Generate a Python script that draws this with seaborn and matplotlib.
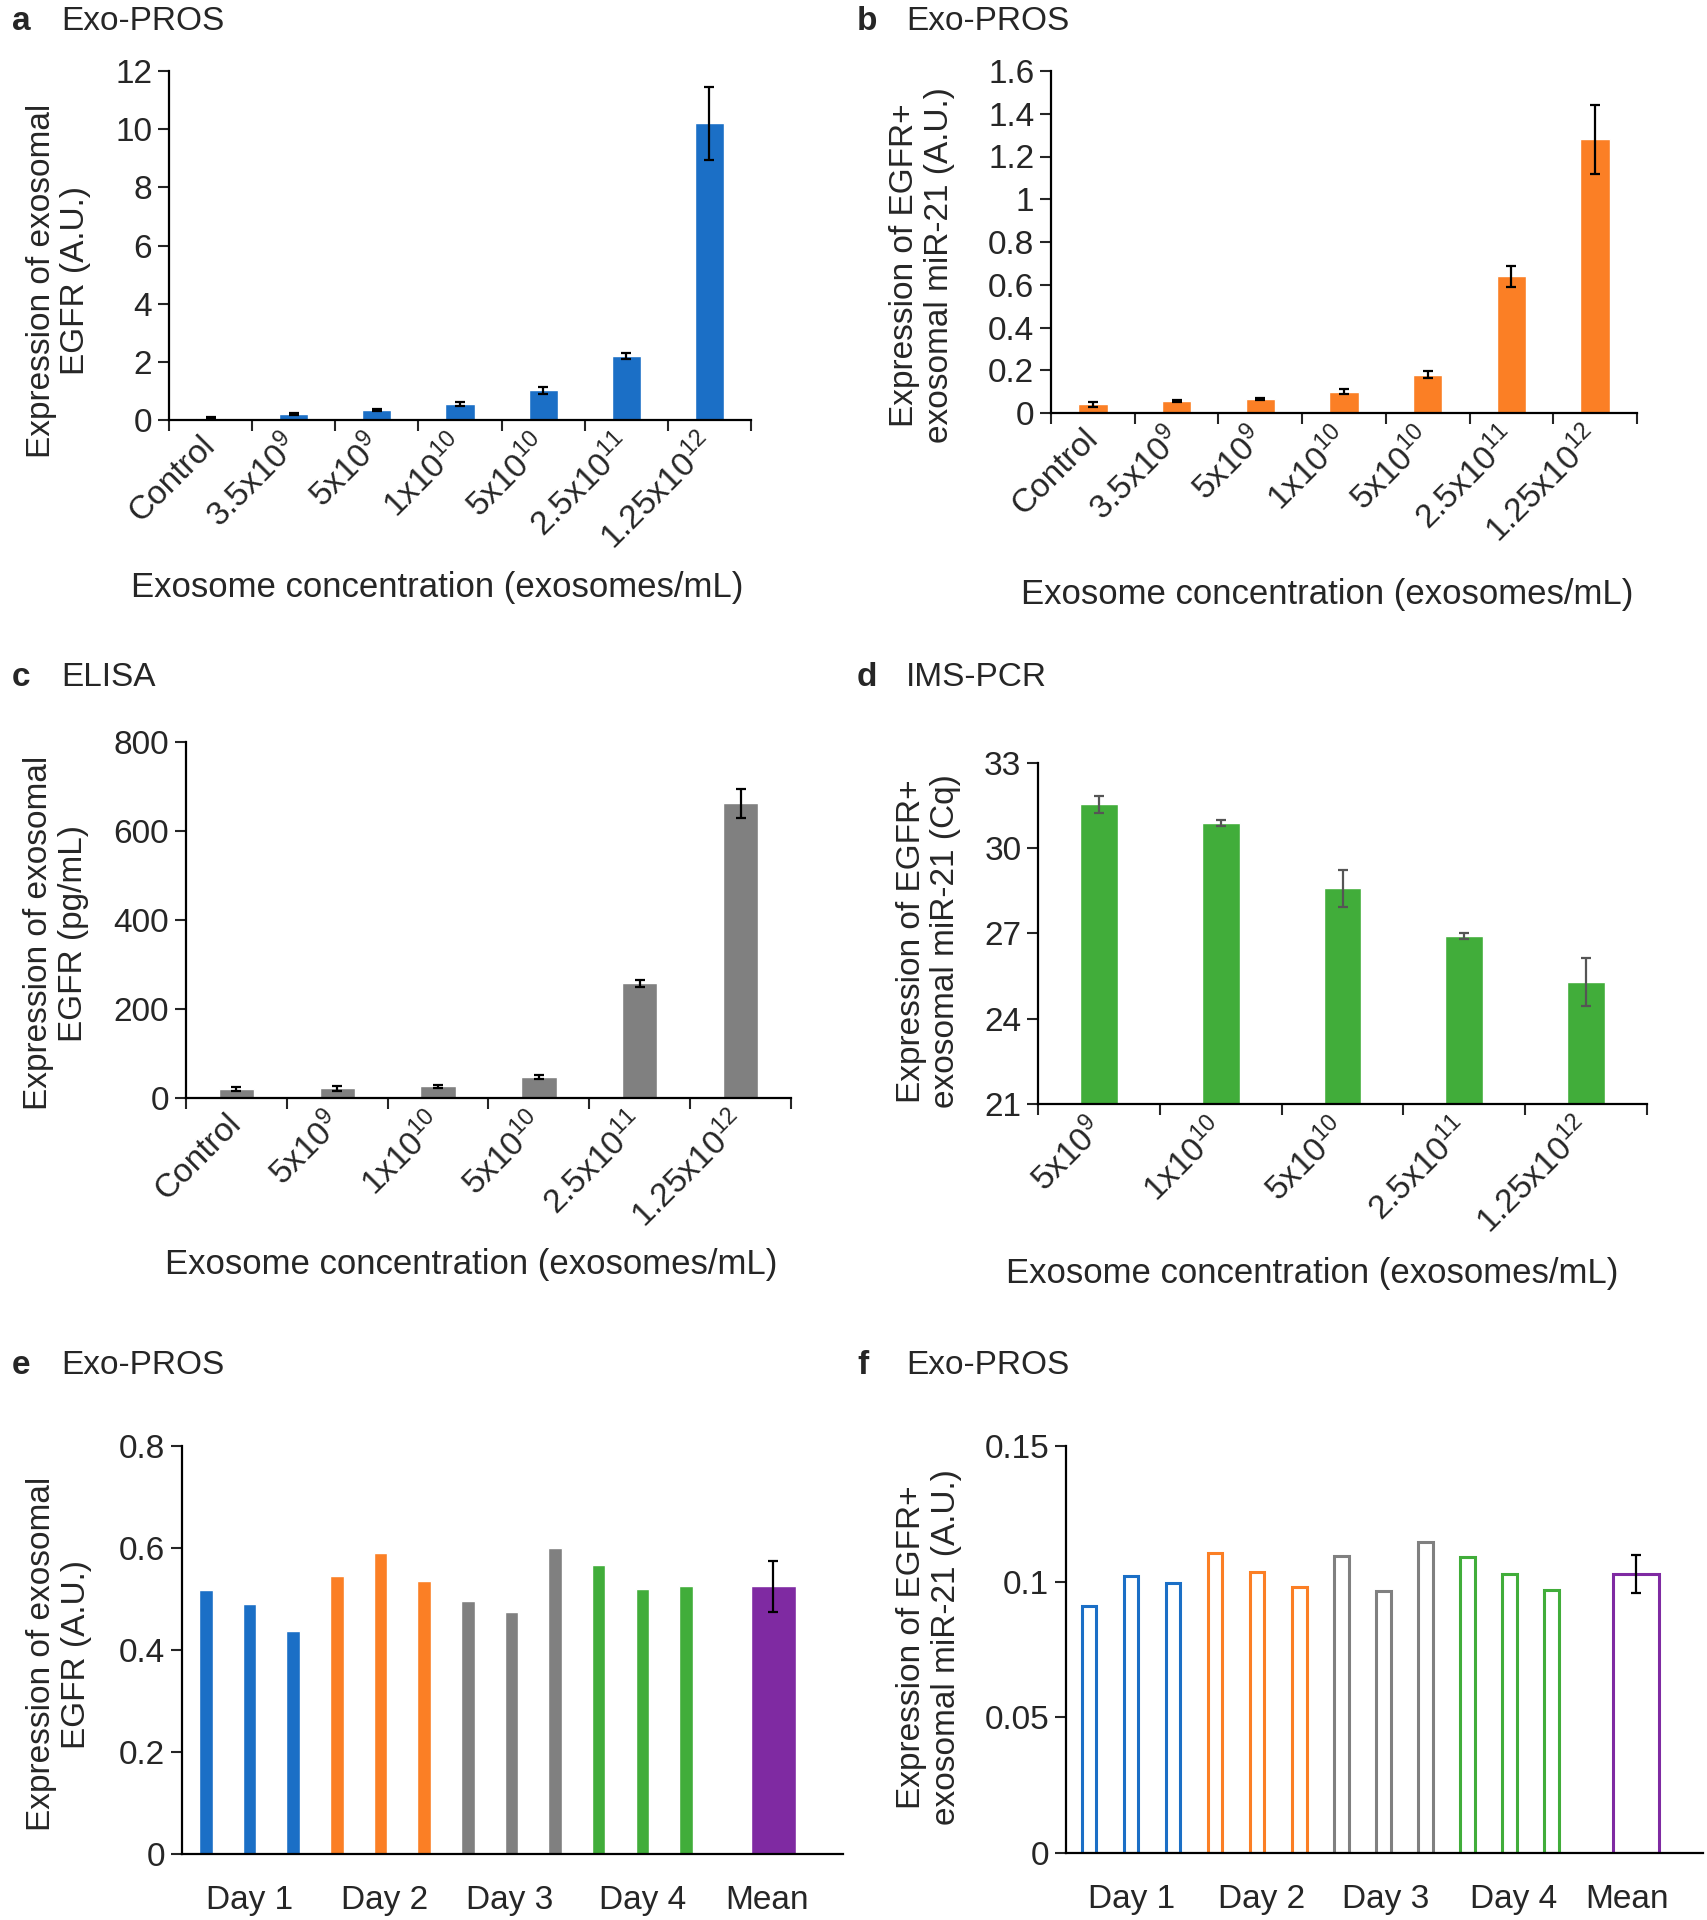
import numpy as np
import pandas as pd
import matplotlib
matplotlib.use('Agg')
import matplotlib.pyplot as plt
import seaborn as sns

# data
conc_a = ['Control', '3.5x10$^{9}$', '5x10$^{9}$', '1x10$^{10}$',
          '5x10$^{10}$', '2.5x10$^{11}$', '1.25x10$^{12}$']
egfr_a = [0.07, 0.2, 0.35, 0.55, 1.02, 2.2, 10.2]
egfr_a_err = [0.03, 0.04, 0.04, 0.07, 0.12, 0.1, 1.25]

conc_b = conc_a
mir_b = [0.04, 0.055, 0.065, 0.1, 0.18, 0.64, 1.28]
mir_b_err = [0.01, 0.005, 0.005, 0.01, 0.015, 0.05, 0.16]

conc_c = ['Control', '5x10$^{9}$', '1x10$^{10}$', '5x10$^{10}$',
          '2.5x10$^{11}$', '1.25x10$^{12}$']
elisa_c = [20, 22, 26, 47, 258, 662]
elisa_c_err = [4, 6, 3, 5, 8, 32]

conc_d = ['5x10$^{9}$', '1x10$^{10}$', '5x10$^{10}$', '2.5x10$^{11}$', '1.25x10$^{12}$']
cq_d = [31.55, 30.9, 28.6, 26.9, 25.3]
cq_d_err = [0.3, 0.1, 0.65, 0.1, 0.85]

days = ['Day 1'] * 3 + ['Day 2'] * 3 + ['Day 3'] * 3 + ['Day 4'] * 3
samples = ['s%d' % i for i in range(1, 13)]
egfr_e = [0.517, 0.49, 0.437, 0.546, 0.59, 0.535, 0.497, 0.475, 0.6, 0.567, 0.52, 0.525]
egfr_e_mean = 0.525
egfr_e_err = 0.05
mir_f = [0.091, 0.102, 0.0995, 0.1105, 0.1035, 0.098, 0.1095, 0.0965, 0.1145, 0.109, 0.103, 0.097]
mir_f_mean = 0.103
mir_f_err = 0.007
day_labels = ['Day 1', 'Day 2', 'Day 3', 'Day 4', 'Mean']

# colours
blue = '#1b6fc6'
orange = '#fb7f25'
grey = '#808080'
green = '#41ad3a'
purple = '#7f2aa2'
day_colors = {'Day 1': blue, 'Day 2': orange, 'Day 3': grey, 'Day 4': green, 'Mean': purple}

# setup
sns.set_style('ticks')
plt.rcParams['font.family'] = ['Liberation Sans', 'DejaVu Sans']
plt.rcParams['mathtext.fontset'] = 'custom'
plt.rcParams['mathtext.rm'] = 'Liberation Sans'
plt.rcParams['mathtext.it'] = 'Liberation Sans:italic'
fs = 24
W, H = 1708, 1920
fig = plt.figure(figsize=(W / 100, H / 100), dpi=100)


def rect(left, right, top, bottom):
    return [left / W, 1 - bottom / H, (right - left) / W, (bottom - top) / H]


def style_axes(ax, yticks, ylim):
    sns.despine(ax=ax)
    for s in ['left', 'bottom']:
        ax.spines[s].set_linewidth(1.6)
        ax.spines[s].set_color('black')
    ax.set_ylim(*ylim)
    ax.set_yticks(yticks)
    ax.set_yticklabels(['%g' % v for v in yticks])
    ax.tick_params(axis='y', length=8, width=1.5, labelsize=fs, pad=4)


def conc_panel(box, cats, vals, errs, color, ylim, yticks, ylabel, ylab_xy, xlab_xy,
               width=0.35, ecolor='black'):
    ax = fig.add_axes(box)
    df = pd.DataFrame({'conc': cats, 'val': vals})
    sns.barplot(data=df, x='conc', y='val', order=cats, color=color, saturation=1,
                width=width, errorbar=None, ax=ax)
    ax.errorbar(np.arange(len(cats)), vals, yerr=errs, fmt='none', ecolor=ecolor,
                elinewidth=1.6, capsize=3.8, capthick=1.6, zorder=3)
    style_axes(ax, yticks, ylim)
    n = len(cats)
    ax.set_xlim(-0.5, n - 0.5)
    ax.set_xticks(np.arange(n + 1) - 0.5, minor=True)
    ax.tick_params(axis='x', which='major', length=0, labelsize=fs, pad=15)
    ax.tick_params(axis='x', which='minor', length=8, width=1.5, direction='out')
    for t in ax.get_xticklabels():
        t.set_rotation(45)
        t.set_ha('right')
        t.set_va('center')
        t.set_rotation_mode('anchor')
    ax.set_xlabel('Exosome concentration (exosomes/mL)', fontsize=25)
    ax.xaxis.set_label_coords(*xlab_xy)
    ax.xaxis.label.set_va('center')
    ax.set_ylabel(ylabel, fontsize=fs, linespacing=1.15)
    ax.yaxis.set_label_coords(*ylab_xy)
    ax.yaxis.label.set_va('center')
    return ax


def day_panel(box, vals, mean, err, ylim, yticks, ylabel, ylab_xy, fill, width, mean_width,
              label_pos, xlim):
    ax = fig.add_axes(box)
    order = samples + ['gap', 'Mean']
    df = pd.DataFrame({'sample': samples, 'day': days, 'val': vals})
    dm = pd.DataFrame({'sample': ['Mean'], 'day': ['Mean'], 'val': [mean]})
    kw = dict(x='sample', y='val', hue='day', palette=day_colors, order=order, dodge=False,
              saturation=1, errorbar=None, legend=False, fill=fill, ax=ax)
    if not fill:
        kw['linewidth'] = 2.2
    sns.barplot(data=df, width=width, **kw)
    sns.barplot(data=dm, width=mean_width, **kw)
    ax.errorbar([order.index('Mean')], [mean], yerr=[err], fmt='none', ecolor='black',
                elinewidth=1.6, capsize=3.8, capthick=1.6, zorder=3)
    style_axes(ax, yticks, ylim)
    ax.set_xlim(*xlim)
    ax.set_xticks(label_pos)
    ax.set_xticklabels(day_labels)
    ax.tick_params(axis='x', length=0, labelsize=fs, pad=22)
    ax.set_xlabel('')
    ax.set_ylabel(ylabel, fontsize=fs, linespacing=1.15)
    ax.yaxis.set_label_coords(*ylab_xy)
    ax.yaxis.label.set_va('center')
    return ax


def panel_title(x, y, letter, title):
    fig.text(x / W, 1 - y / H, letter, fontsize=fs, fontweight='bold', va='center')
    fig.text((x + 49) / W, 1 - y / H, title, fontsize=fs, va='center')


# a
conc_panel(rect(169, 751, 71, 420), conc_a, egfr_a, egfr_a_err, blue, (0, 12),
           [0, 2, 4, 6, 8, 10, 12], 'Expression of exosomal\nEGFR (A.U.)',
           (-0.19, 0.40), (0.46, -0.48))
panel_title(12, 21, 'a', 'Exo-PROS')

# b
conc_panel(rect(1051, 1637, 71, 413), conc_b, mir_b, mir_b_err, orange, (0, 1.6),
           [0, 0.2, 0.4, 0.6, 0.8, 1.0, 1.2, 1.4, 1.6],
           'Expression of EGFR+\nexosomal miR-21 (A.U.)',
           (-0.22, 0.433), (0.471, -0.532))
panel_title(857, 21, 'b', 'Exo-PROS')

# c
conc_panel(rect(186, 791, 742, 1098), conc_c, elisa_c, elisa_c_err, grey, (0, 800),
           [0, 200, 400, 600, 800], 'Expression of exosomal\nEGFR (pg/mL)',
           (-0.215, 0.463), (0.471, -0.469))
panel_title(12, 677, 'c', 'ELISA')

# d
conc_panel(rect(1038, 1647, 763, 1104), conc_d, cq_d, cq_d_err, green, (21, 33),
           [21, 24, 27, 30, 33], 'Expression of EGFR+\nexosomal miR-21 (Cq)',
           (-0.18, 0.478), (0.451, -0.496), width=0.31, ecolor='#555555')
panel_title(857, 677, 'd', 'IMS-PCR')

# e
day_panel(rect(182, 843, 1446, 1854), egfr_e, egfr_e_mean, egfr_e_err, (0, 0.8),
          [0, 0.2, 0.4, 0.6, 0.8], 'Expression of exosomal\nEGFR (A.U.)',
          (-0.186, 0.49), True, 0.31, 1.04, [1, 4.1, 6.95, 10, 12.85], (-0.55, 14.6))
panel_title(12, 1365, 'e', 'Exo-PROS')

# f
day_panel(rect(1066, 1703, 1446, 1853), mir_f, mir_f_mean, mir_f_err, (0, 0.15),
          [0, 0.05, 0.1, 0.15], 'Expression of EGFR+\nexosomal miR-21 (A.U.)',
          (-0.215, 0.506), False, 0.34, 1.1, [1, 4.1, 7.05, 10.1, 12.8], (-0.55, 14.6))
panel_title(857, 1365, 'f', 'Exo-PROS')

fig.savefig('out.png', dpi=100)
